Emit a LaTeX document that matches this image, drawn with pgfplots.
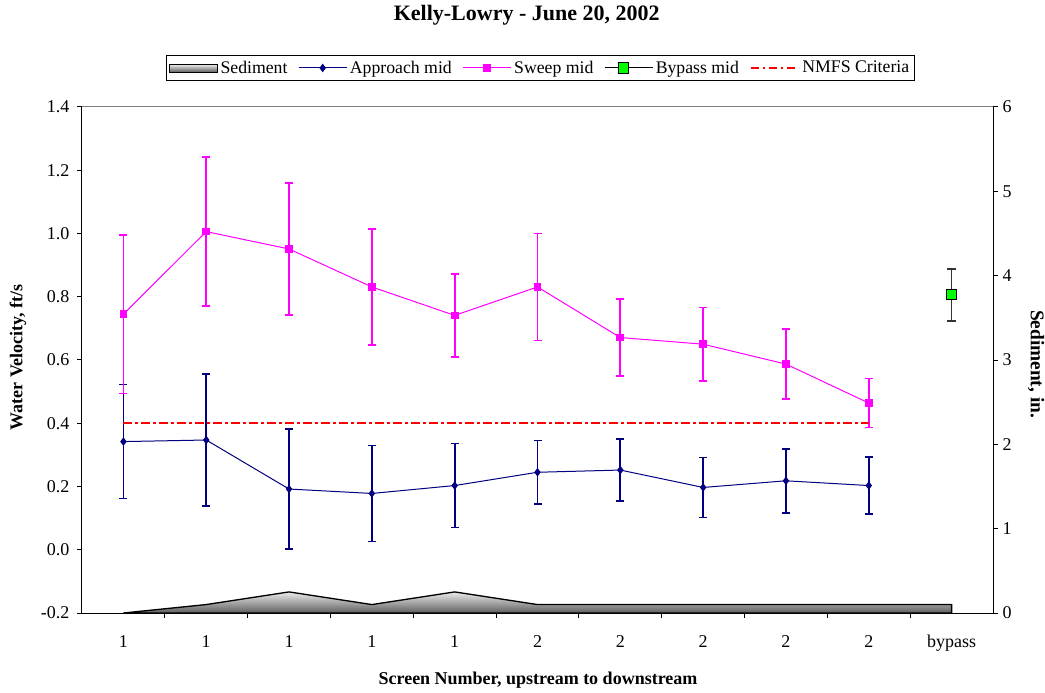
\documentclass[border=0pt]{standalone}
\usepackage{pgfplots}
\pgfplotsset{compat=1.18}
\usepackage{fontspec}
\setmainfont{Liberation Serif}
\definecolor{navyc}{RGB}{0,0,128}
\definecolor{magc}{RGB}{255,0,255}
\definecolor{greenc}{RGB}{0,255,0}
\definecolor{redc}{RGB}{255,0,0}
\definecolor{sedtop}{RGB}{235,235,235}
\definecolor{sedbot}{RGB}{95,95,95}
\newcommand\tickfont{\fontsize{13.5}{16}\selectfont}
\newcommand\legfont{\fontsize{13.3}{16}\selectfont}
\newcommand\labfont{\fontsize{13.5}{16}\selectfont\bfseries}
\newcommand\titlefont{\fontsize{16.5}{19}\selectfont\bfseries}

\pgfplotstableread{
x y e
1 0.342 0.180
2 0.347 0.208
3 0.192 0.189
4 0.178 0.152
5 0.203 0.133
6 0.245 0.100
7 0.252 0.098
8 0.197 0.095
9 0.218 0.101
10 0.203 0.090
}\approach
\pgfplotstableread{
x y e
1 0.745 0.251
2 1.006 0.235
3 0.951 0.209
4 0.831 0.184
5 0.741 0.131
6 0.831 0.169
7 0.671 0.122
8 0.650 0.116
9 0.587 0.111
10 0.464 0.078
}\sweep
\pgfplotstableread{
x y e
11 0.806 0.082
}\bypass
\pgfplotstableread{
x s
1 0
2 0.10
3 0.25
4 0.10
5 0.25
6 0.10
7 0.10
8 0.10
9 0.10
10 0.10
11 0.10
}\sediment

\pgfplotsset{
  linelegend/.style={legend image code/.code={%
    \draw[mark repeat=2,mark phase=2,##1] plot coordinates {(0pt,0pt) (18pt,0pt) (36pt,0pt)};}},
  marklegend/.style={legend image code/.code={%
    \path (0pt,0pt) -- (36pt,0pt); \draw[##1] plot coordinates {(14pt,0pt)};}},
}

\begin{document}
\begin{tikzpicture}
\useasboundingbox (-61.5pt,-59.25pt) rectangle (722.25pt,459.75pt);
% right axis: sediment
\begin{axis}[
  at={(0pt,0pt)}, anchor=south west,
  width=683.25pt, height=379.5pt, scale only axis,
  xmin=0.5, xmax=11.5, ymin=0, ymax=6,
  axis x line=none, axis y line*=right,
  ytick={0,1,2,3,4,5,6},
  ytick align=outside, major tick length=3.75pt,
  tick style={black, line width=0.75pt},
  axis line style={black, line width=0.75pt},
  yticklabel style={font=\tickfont},
  /pgf/number format/assume math mode=true,
  clip=false,
]
\addplot[draw=black, line width=1pt, top color=sedtop, bottom color=sedbot]
  table[x=x, y=s] {\sediment} \closedcycle;
\end{axis}
% left axis: velocities
\begin{axis}[
  at={(0pt,0pt)}, anchor=south west,
  width=683.25pt, height=379.5pt, scale only axis,
  xmin=0.5, xmax=11.5, ymin=-0.2, ymax=1.4,
  axis x line*=bottom, axis y line*=left,
  xtick={1,2,3,4,5,6,7,8,9,10,11},
  xticklabels={1,1,1,1,1,2,2,2,2,2,bypass},
  minor x tick num=1,
  major x tick style={draw=none},
  minor x tick style={black, line width=0.75pt},
  ytick={-0.2,0,0.2,0.4,0.6,0.8,1.0,1.2,1.4},
  tick align=outside,
  major tick length=3.75pt, minor tick length=3.75pt,
  tick style={black, line width=0.75pt},
  axis line style={black, line width=0.75pt},
  yticklabel style={font=\tickfont, xshift=-2.25pt,
    /pgf/number format/.cd, fixed, fixed zerofill, precision=1},
  xticklabel style={font=\tickfont, text height=9.5pt, text depth=3pt, yshift=-9pt},
  /pgf/number format/assume math mode=true,
  clip=false,
  legend columns=5,
  legend style={at={(0.5033,1.0771)}, anchor=center, draw=black, line width=0.75pt,
    font=\legfont, inner sep=2pt,
    /tikz/every even column/.append style={column sep=6pt}},
]
\addlegendimage{legend image code/.code={%
  \draw[black, line width=0.6pt, top color=sedtop!60!white, bottom color=sedbot] (0pt,-3pt) rectangle (36pt,3pt);}}
\addlegendentry{Sediment}

\addplot[navyc, line width=0.75pt, mark=diamond*, mark size=2.6pt, mark options={solid, fill=navyc},
  linelegend,
  error bars/.cd, y dir=both, y explicit,
  error bar style={line width=1.3pt, navyc},
  error mark options={rotate=90, mark size=3pt, line width=1.2pt, navyc}]
  table[x=x, y=y, y error=e] {\approach};
\addlegendentry{Approach mid}

\addplot[magc, line width=0.75pt, mark=square*, mark size=2.5pt, mark options={solid, fill=magc},
  linelegend,
  error bars/.cd, y dir=both, y explicit,
  error bar style={line width=1.3pt, magc},
  error mark options={rotate=90, mark size=3pt, line width=1.2pt, magc}]
  table[x=x, y=y, y error=e] {\sweep};
\addlegendentry{Sweep mid}

\addplot[only marks, mark=square*, mark size=3.8pt, mark options={draw=black, fill=greenc, line width=0.75pt},
  marklegend,
  error bars/.cd, y dir=both, y explicit,
  error bar style={line width=1.3pt, black!80},
  error mark options={rotate=90, mark size=3.2pt, line width=1.2pt, black!80}]
  table[x=x, y=y, y error=e] {\bypass};
\addlegendentry{Bypass mid}

\addplot[redc, line width=1.5pt, dash pattern=on 6.5pt off 2.5pt on 2pt off 2.5pt, mark=none, linelegend]
  coordinates {(1,0.4) (10,0.4)};
\addlegendentry{NMFS Criteria}

\draw[gray, line width=0.75pt] (rel axis cs:0,1) -- (rel axis cs:1,1);
\end{axis}

\node[font=\titlefont, anchor=base] at (333.5pt,444.2pt) {Kelly-Lowry - June 20, 2002};
\node[font=\labfont, anchor=base] at (342pt,-53.25pt) {Screen Number, upstream to downstream};
\node[font=\labfont, rotate=90] at (-48pt,191.6pt) {Water Velocity, ft/s};
\node[font=\fontsize{14.5}{17}\selectfont\bfseries, rotate=-90] at (715.5pt,186.75pt) {Sediment, in.};
\end{tikzpicture}
\end{document}
